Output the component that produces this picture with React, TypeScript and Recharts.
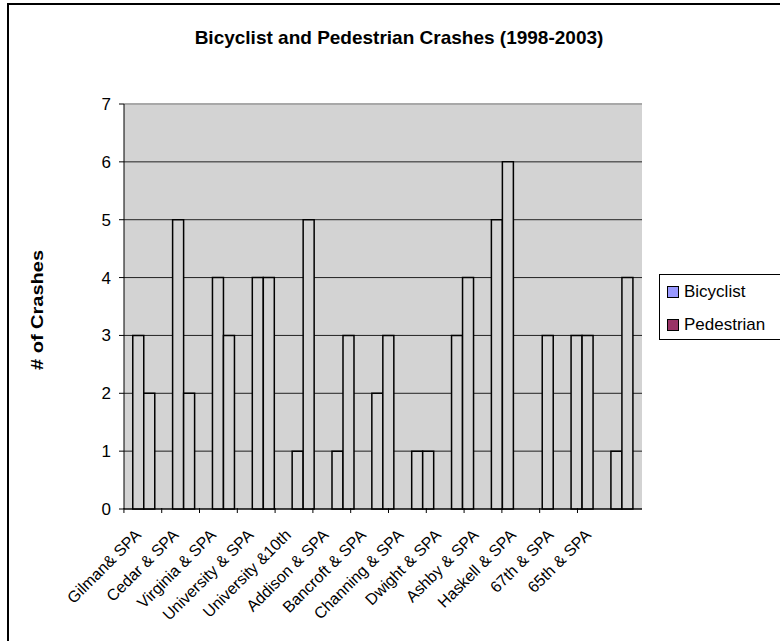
import React from "react";
import { BarChart, Bar, XAxis, YAxis, CartesianGrid, ReferenceLine } from "recharts";

const categories = [
  "Gilman& SPA",
  "Cedar & SPA",
  "Virginia & SPA",
  "University & SPA",
  "University &10th",
  "Addison & SPA",
  "Bancroft & SPA",
  "Channing & SPA",
  "Dwight & SPA",
  "Ashby & SPA",
  "Haskell & SPA",
  "67th & SPA",
  "65th & SPA",
];
const bicyclist = [3, 5, 4, 4, 1, 1, 2, 1, 3, 5, 0, 3, 1];
const pedestrian = [2, 2, 3, 4, 5, 3, 3, 1, 4, 6, 3, 3, 4];
const yTicks = [0, 1, 2, 3, 4, 5, 6, 7];

const seriesNames = ["Bicyclist", "Pedestrian"];
const legendColors = ["#9999FF", "#993366"];

const data = categories.map((name, i) => ({
  name,
  Bicyclist: bicyclist[i],
  Pedestrian: pedestrian[i],
}));

const FONT = "'Liberation Sans', Arial, sans-serif";

// Tick labels in the original drift slightly from the category centres
const XTick = (props: any) => {
  const { x, y, payload, index } = props;
  const i = index ?? 0;
  const lx = x - 9 - 2.35 * i;
  const tx = x - 20 - 2.05 * i;
  return (
    <g>
      <line x1={tx} y1={y - 8} x2={tx} y2={y - 3} stroke="#000" strokeWidth={1} />
      <g transform={`translate(${lx},${y + 13})`}>
        <text
          x={0}
          y={0}
          dy={10}
          textAnchor="end"
          transform="rotate(-45)"
          fontFamily={FONT}
          fontSize={16}
          fill="#000"
        >
          {payload.value}
        </text>
      </g>
    </g>
  );
};

const LegendBox = () => (
  <div
    style={{
      position: "absolute",
      left: 659,
      top: 274,
      border: "1px solid #000",
      background: "#fff",
      padding: "0 0 0 7px",
      width: 140,
      height: 66,
      boxSizing: "border-box",
      fontFamily: FONT,
      fontSize: 17,
      color: "#000",
    }}
  >
    {seriesNames.map((n, i) => (
      <div
        key={n}
        style={{
          display: "flex",
          alignItems: "center",
          height: 35,
          marginTop: i === 0 ? -1 : -2,
          whiteSpace: "nowrap",
        }}
      >
        <span
          style={{
            display: "inline-block",
            width: 10,
            height: 10,
            background: legendColors[i],
            border: "1px solid #000",
            marginRight: 5,
          }}
        />
        {n}
      </div>
    ))}
  </div>
);

export default function App() {
  return (
    <div
      style={{
        position: "absolute",
        left: 0,
        top: 0,
        width: 780,
        height: 641,
        background: "#fff",
        overflow: "hidden",
      }}
    >
      <div
        style={{
          position: "absolute",
          left: 7,
          top: 3,
          width: 800,
          height: 700,
          borderLeft: "2px solid #000",
          borderTop: "2px solid #000",
        }}
      />
      <div style={{ position: "absolute", left: 0, top: 0 }}>
        <BarChart
          width={780}
          height={641}
          data={data}
          margin={{ top: 104, right: 138, left: 64, bottom: 0 }}
          barCategoryGap="22%"
          barGap={0}
        >
          <text
            x={399}
            y={44}
            textAnchor="middle"
            fontFamily={FONT}
            fontSize={19}
            fontWeight="bold"
            fill="#000"
          >
            Bicyclist and Pedestrian Crashes (1998-2003)
          </text>
          <text
            x={0}
            y={0}
            transform="translate(43,310) rotate(-90)"
            textAnchor="middle"
            fontFamily={FONT}
            fontSize={16}
            fontWeight="bold"
            fill="#000"
            textLength={120}
            lengthAdjust="spacingAndGlyphs"
          >
            # of Crashes
          </text>
          <CartesianGrid
            vertical={false}
            stroke="#222"
            strokeWidth={1}
            fill="#D3D3D3"
            fillOpacity={1}
          />
          <ReferenceLine y={7} stroke="#A8A8A8" strokeWidth={2} />
          <XAxis
            dataKey="name"
            interval={0}
            tick={<XTick />}
            tickSize={5}
            axisLine={{ stroke: "#000", strokeWidth: 1 }}
            tickLine={false}
            height={132}
          />
          <YAxis
            domain={[0, 7]}
            ticks={yTicks}
            width={60}
            tickSize={5}
            tickMargin={8}
            axisLine={{ stroke: "#000", strokeWidth: 1 }}
            tickLine={{ stroke: "#000" }}
            tick={{ fontFamily: FONT, fontSize: 17, fill: "#000" }}
            allowDecimals={false}
          />
          <YAxis
            yAxisId="frame"
            orientation="right"
            domain={[0, 7]}
            width={0}
            tick={false}
            tickLine={false}
            axisLine={{ stroke: "#A8A8A8", strokeWidth: 2 }}
          />
          <Bar
            dataKey="Bicyclist"
            fill="#D3D3D3"
            stroke="#000"
            strokeWidth={1.5}
            isAnimationActive={false}
          />
          <Bar
            dataKey="Pedestrian"
            fill="#D3D3D3"
            stroke="#000"
            strokeWidth={1.5}
            isAnimationActive={false}
          />
        </BarChart>
      </div>
      <LegendBox />
    </div>
  );
}
